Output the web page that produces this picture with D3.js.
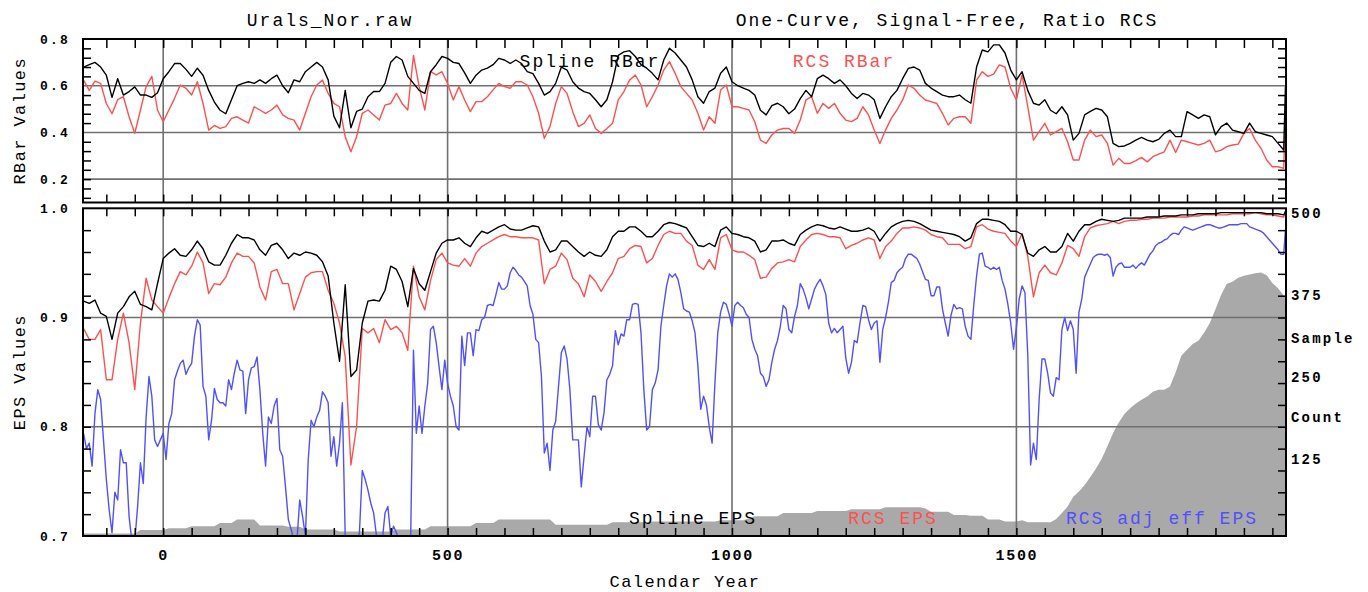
<!DOCTYPE html>
<html>
<head>
<meta charset="utf-8">
<script src="https://cdn.jsdelivr.net/npm/d3@7"></script>
<style>
  body { margin: 0; background: #fff; }
  svg { display: block; }
  text { font-family: "Courier New", "Liberation Mono", monospace; }
</style>
</head>
<body>
<svg id="chart" width="1368" height="592"></svg>
<script>
// Decadal sampling of the chronology statistics (last entry is the final year).
const years = d3.range(-140, 1971, 10).concat([1973]);
// Five-year sampling used for the adjusted effective EPS.
const yearsFine = d3.range(-140, 1971, 5).concat([1973]);

const splineRBar = [
  0.68,0.69,0.70,0.68,0.645,0.55,0.63,0.56,0.575,0.595,
  0.56,0.56,0.55,0.57,0.63,0.66,0.695,0.695,0.67,0.64,
  0.675,0.645,0.58,0.53,0.495,0.48,0.54,0.60,0.61,0.617,
  0.61,0.625,0.61,0.63,0.645,0.60,0.57,0.625,0.617,0.66,
  0.68,0.70,0.68,0.625,0.47,0.42,0.58,0.42,0.49,0.50,
  0.553,0.575,0.575,0.61,0.70,0.725,0.71,0.64,0.61,0.58,
  0.567,0.66,0.69,0.725,0.717,0.70,0.695,0.655,0.61,0.645,
  0.667,0.675,0.69,0.717,0.71,0.695,0.71,0.695,0.66,0.652,
  0.61,0.56,0.575,0.61,0.68,0.667,0.617,0.59,0.575,0.567,
  0.54,0.51,0.54,0.617,0.73,0.745,0.75,0.725,0.69,0.675,
  0.653,0.625,0.71,0.76,0.74,0.71,0.68,0.625,0.553,0.525,
  0.575,0.59,0.653,0.68,0.617,0.60,0.59,0.58,0.56,0.495,
  0.475,0.515,0.525,0.51,0.48,0.50,0.545,0.58,0.553,0.63,
  0.645,0.63,0.61,0.625,0.60,0.567,0.545,0.567,0.56,0.54,
  0.46,0.51,0.553,0.58,0.63,0.674,0.68,0.667,0.61,0.59,
  0.575,0.56,0.553,0.553,0.56,0.54,0.525,0.68,0.753,0.745,
  0.775,0.775,0.74,0.667,0.625,0.66,0.58,0.525,0.517,0.54,
  0.495,0.48,0.51,0.475,0.367,0.396,0.475,0.49,0.503,0.496,
  0.467,0.353,0.339,0.342,0.353,0.367,0.379,0.367,0.36,0.37,
  0.396,0.41,0.382,0.382,0.489,0.475,0.46,0.475,0.467,0.39,
  0.425,0.44,0.41,0.403,0.396,0.44,0.403,0.396,0.389,0.382,
  0.353,0.325,0.596
];

const rcsRBar = [
  0.624,0.58,0.62,0.61,0.524,0.48,0.54,0.553,0.467,0.396,
  0.496,0.596,0.64,0.496,0.446,0.496,0.546,0.603,0.589,0.56,
  0.617,0.524,0.41,0.43,0.417,0.425,0.46,0.467,0.453,0.44,
  0.51,0.496,0.482,0.496,0.517,0.475,0.46,0.453,0.41,0.482,
  0.553,0.603,0.624,0.567,0.524,0.51,0.382,0.317,0.382,0.482,
  0.496,0.475,0.453,0.517,0.524,0.567,0.524,0.496,0.73,0.596,
  0.496,0.66,0.646,0.66,0.61,0.539,0.596,0.539,0.489,0.532,
  0.532,0.553,0.582,0.61,0.596,0.589,0.617,0.617,0.603,0.553,
  0.482,0.375,0.425,0.524,0.596,0.567,0.489,0.425,0.439,0.475,
  0.417,0.396,0.417,0.439,0.539,0.575,0.624,0.646,0.603,0.51,
  0.553,0.603,0.667,0.703,0.653,0.596,0.567,0.539,0.482,0.41,
  0.467,0.439,0.582,0.603,0.51,0.51,0.503,0.496,0.446,0.367,
  0.353,0.389,0.41,0.417,0.417,0.396,0.453,0.539,0.553,0.482,
  0.524,0.503,0.524,0.482,0.453,0.446,0.46,0.51,0.475,0.41,
  0.353,0.41,0.46,0.496,0.539,0.603,0.589,0.56,0.539,0.532,
  0.524,0.482,0.432,0.46,0.467,0.467,0.439,0.624,0.66,0.64,
  0.65,0.689,0.68,0.589,0.539,0.646,0.51,0.367,0.403,0.439,
  0.389,0.403,0.417,0.36,0.282,0.282,0.367,0.41,0.382,0.389,
  0.353,0.26,0.289,0.267,0.267,0.279,0.293,0.274,0.296,0.307,
  0.317,0.367,0.314,0.367,0.36,0.353,0.346,0.353,0.367,0.317,
  0.324,0.339,0.346,0.35,0.396,0.417,0.367,0.332,0.282,0.253,
  0.253,0.246,0.482
];

const splineEPS = [
  0.915,0.913,0.916,0.904,0.901,0.88,0.904,0.91,0.919,0.924,
  0.912,0.91,0.907,0.931,0.954,0.959,0.963,0.957,0.956,0.962,
  0.97,0.963,0.951,0.948,0.948,0.957,0.968,0.976,0.973,0.973,
  0.971,0.962,0.957,0.966,0.968,0.962,0.954,0.959,0.957,0.96,
  0.959,0.957,0.951,0.938,0.895,0.86,0.93,0.846,0.852,0.895,
  0.915,0.916,0.915,0.925,0.947,0.944,0.933,0.91,0.945,0.931,
  0.925,0.942,0.959,0.968,0.971,0.971,0.973,0.968,0.965,0.973,
  0.979,0.977,0.98,0.983,0.985,0.981,0.98,0.98,0.982,0.984,
  0.983,0.97,0.96,0.962,0.97,0.97,0.965,0.96,0.956,0.96,
  0.957,0.956,0.962,0.974,0.979,0.979,0.983,0.983,0.979,0.974,
  0.974,0.979,0.985,0.987,0.986,0.984,0.982,0.974,0.966,0.965,
  0.968,0.965,0.98,0.983,0.977,0.976,0.974,0.973,0.97,0.96,
  0.962,0.97,0.97,0.971,0.968,0.966,0.976,0.98,0.983,0.985,
  0.984,0.982,0.981,0.983,0.981,0.979,0.979,0.98,0.982,0.979,
  0.97,0.977,0.983,0.986,0.988,0.989,0.988,0.986,0.983,0.98,
  0.979,0.978,0.977,0.976,0.974,0.97,0.973,0.986,0.99,0.99,
  0.989,0.988,0.985,0.979,0.979,0.976,0.959,0.956,0.962,0.965,
  0.96,0.96,0.965,0.977,0.97,0.979,0.985,0.985,0.988,0.99,
  0.989,0.988,0.989,0.991,0.991,0.991,0.991,0.992,0.992,0.992,
  0.993,0.993,0.993,0.994,0.994,0.994,0.995,0.995,0.995,0.995,
  0.996,0.996,0.996,0.996,0.996,0.996,0.996,0.996,0.995,0.995,
  0.995,0.994,0.997
];

const rcsEPS = [
  0.89,0.88,0.88,0.889,0.843,0.843,0.88,0.904,0.877,0.834,
  0.895,0.936,0.916,0.91,0.904,0.918,0.931,0.942,0.939,0.947,
  0.96,0.95,0.922,0.931,0.93,0.937,0.95,0.959,0.956,0.956,
  0.95,0.928,0.916,0.942,0.944,0.931,0.931,0.907,0.922,0.937,
  0.941,0.942,0.942,0.925,0.913,0.895,0.864,0.765,0.80,0.89,
  0.886,0.89,0.877,0.898,0.889,0.892,0.886,0.87,0.947,0.919,
  0.907,0.934,0.953,0.959,0.95,0.948,0.947,0.954,0.947,0.959,
  0.965,0.968,0.971,0.974,0.976,0.974,0.974,0.973,0.973,0.973,
  0.971,0.931,0.944,0.947,0.959,0.953,0.936,0.931,0.919,0.939,
  0.933,0.924,0.933,0.941,0.954,0.956,0.963,0.966,0.965,0.95,
  0.954,0.966,0.976,0.979,0.977,0.977,0.97,0.966,0.948,0.944,
  0.953,0.944,0.973,0.976,0.962,0.96,0.96,0.957,0.953,0.936,
  0.937,0.945,0.95,0.951,0.953,0.951,0.965,0.971,0.976,0.977,
  0.976,0.974,0.974,0.973,0.963,0.966,0.968,0.971,0.973,0.971,
  0.954,0.965,0.97,0.977,0.982,0.982,0.983,0.982,0.98,0.976,
  0.974,0.973,0.967,0.967,0.967,0.963,0.965,0.983,0.985,0.981,
  0.979,0.978,0.977,0.97,0.965,0.977,0.956,0.919,0.941,0.948,
  0.941,0.939,0.95,0.966,0.963,0.956,0.974,0.982,0.984,0.985,
  0.986,0.988,0.986,0.988,0.989,0.989,0.99,0.99,0.991,0.991,
  0.991,0.992,0.992,0.992,0.992,0.993,0.993,0.994,0.994,0.994,
  0.994,0.994,0.995,0.995,0.995,0.995,0.996,0.995,0.994,0.994,
  0.993,0.992,0.997
];

// five-year values (yearsFine)
const rcsAdjEffEPS = [
  0.794,0.78,0.785,0.764,0.812,0.834,0.825,0.788,0.752,0.724,0.703,0.74,0.733,0.779,0.767,0.767,0.718,0.695,0.695,0.727,
  0.767,0.748,0.809,0.846,0.828,0.788,0.782,0.788,0.794,0.77,0.803,0.812,0.843,0.851,0.858,0.861,0.848,0.854,0.858,0.883,
  0.898,0.893,0.837,0.828,0.788,0.806,0.835,0.825,0.822,0.822,0.819,0.843,0.834,0.849,0.861,0.852,0.851,0.812,0.843,0.854,
  0.855,0.864,0.834,0.794,0.764,0.809,0.803,0.819,0.826,0.779,0.773,0.745,0.715,0.706,0.695,0.695,0.733,0.718,0.70,0.77,
  0.806,0.80,0.809,0.815,0.832,0.828,0.822,0.773,0.791,0.764,0.785,0.822,0.70,0.695,0.695,0.695,0.695,0.703,0.76,0.752,
  0.742,0.73,0.721,0.70,0.695,0.695,0.721,0.727,0.70,0.709,0.703,0.695,0.695,0.695,0.695,0.695,0.87,0.794,0.819,0.794,
  0.819,0.84,0.889,0.892,0.877,0.855,0.834,0.861,0.84,0.828,0.819,0.80,0.797,0.883,0.856,0.886,0.886,0.865,0.889,0.888,
  0.898,0.90,0.911,0.912,0.911,0.921,0.932,0.926,0.926,0.929,0.941,0.946,0.943,0.939,0.937,0.933,0.929,0.911,0.903,0.88,
  0.877,0.846,0.776,0.785,0.76,0.797,0.805,0.837,0.868,0.874,0.862,0.834,0.788,0.788,0.788,0.745,0.773,0.80,0.791,0.828,
  0.828,0.802,0.797,0.813,0.843,0.848,0.856,0.888,0.875,0.885,0.883,0.898,0.898,0.912,0.913,0.912,0.886,0.834,0.797,0.80,
  0.834,0.84,0.852,0.892,0.911,0.929,0.94,0.937,0.94,0.935,0.923,0.908,0.906,0.905,0.897,0.886,0.856,0.816,0.828,0.82,
  0.80,0.785,0.84,0.886,0.905,0.914,0.912,0.903,0.892,0.911,0.914,0.911,0.909,0.903,0.90,0.88,0.871,0.865,0.849,0.846,
  0.837,0.843,0.859,0.871,0.879,0.892,0.911,0.908,0.889,0.886,0.901,0.911,0.931,0.926,0.918,0.908,0.917,0.926,0.931,0.935,
  0.929,0.921,0.895,0.886,0.89,0.886,0.889,0.892,0.863,0.849,0.859,0.879,0.877,0.895,0.911,0.91,0.898,0.889,0.895,0.897,
  0.859,0.889,0.90,0.914,0.932,0.934,0.941,0.944,0.946,0.954,0.958,0.958,0.956,0.954,0.949,0.942,0.935,0.934,0.92,0.92,
  0.928,0.928,0.908,0.895,0.883,0.902,0.912,0.908,0.909,0.908,0.892,0.883,0.88,0.911,0.938,0.958,0.959,0.947,0.946,0.944,
  0.946,0.944,0.946,0.934,0.926,0.912,0.895,0.871,0.891,0.917,0.929,0.923,0.866,0.765,0.785,0.77,0.825,0.862,0.862,0.849,
  0.831,0.828,0.845,0.843,0.889,0.90,0.888,0.897,0.889,0.849,0.905,0.917,0.937,0.943,0.949,0.955,0.957,0.958,0.958,0.957,
  0.958,0.955,0.938,0.946,0.949,0.95,0.946,0.946,0.946,0.948,0.945,0.948,0.95,0.948,0.953,0.958,0.961,0.966,0.968,0.969,
  0.971,0.972,0.975,0.977,0.977,0.976,0.98,0.983,0.982,0.981,0.98,0.981,0.982,0.983,0.984,0.985,0.985,0.984,0.983,0.982,
  0.982,0.983,0.984,0.985,0.985,0.985,0.985,0.986,0.986,0.986,0.983,0.982,0.981,0.98,0.979,0.977,0.974,0.971,0.968,0.965,
  0.962,0.958,0.958,0.98
];

const sampleCount = [
  4,4,4,4,4,4,4,4,4,4,
  9,9,9,9,9,12,12,12,12,15,
  15,15,15,15,20,20,20,25,25,25,
  25,16,16,16,16,16,14,14,14,10,
  10,10,10,10,10,7,7,7,7,7,
  7,7,7,7,7,10,10,10,10,10,
  10,15,15,15,15,15,15,15,15,20,
  20,20,20,25,25,25,25,25,25,25,
  25,25,25,17,17,17,17,17,17,17,
  17,17,17,21,21,21,21,21,21,21,
  22,22,22,22,22,22,22,22,22,22,
  22,22,24,24,24,24,24,27,30,30,
  30,30,30,35,35,35,35,35,35,38,
  38,38,38,38,38,41,41,41,41,41,
  41,44,44,44,44,44,44,44,42,37,
  37,37,37,32,32,32,31,31,31,25,
  25,25,22,22,22,24,21,21,21,21,
  21,26,35,45,60,68,78,90,103,118,
  137,157,173,186,195,202,208,213,220,223,
  223,228,250,275,284,293,298,310,325,346,
  368,385,388,394,397,399,401,402,398,386,
  378,367,365
];

const xLabelYears = [0, 500, 1000, 1500];
const rbarTicks = [0.2, 0.4, 0.6, 0.8];
const epsTicks = [0.7, 0.8, 0.9, 1.0];
const countTicks = [125, 250, 375, 500];

const RED = "#ff5050", BLUE = "#5050ff", GRID = "#707070", AREA = "#a9a9a9";
const FONT = '"Courier New", "Liberation Mono", monospace';

const svg = d3.select("#chart");
const L = 83, R = 1286;
const top1 = 39, bot1 = 202.5;     // RBar panel
const top2 = 208.3, bot2 = 536;    // EPS panel

const x = d3.scaleLinear().domain([-141, 1974]).range([L, R]);
const yR = d3.scaleLinear().domain([0.1, 0.8]).range([bot1, top1]);
const yE = d3.scaleLinear().domain([0.7, 1.0]).range([bot2, top2]);
const yC = d3.scaleLinear().domain([0, 500]).range([bot2, top2]);

const defs = svg.append("defs");
defs.append("clipPath").attr("id", "clipR").append("rect")
  .attr("x", L).attr("y", top1).attr("width", R - L).attr("height", bot1 - top1);
defs.append("clipPath").attr("id", "clipE").append("rect")
  .attr("x", L).attr("y", top2).attr("width", R - L).attr("height", bot2 - top2);

const rows = (vals, yrs = years) => yrs.map((yr, i) => ({ yr, v: vals[i] }));

// ---- sample-count area behind the EPS curves
svg.append("path")
  .datum(rows(sampleCount))
  .attr("clip-path", "url(#clipE)")
  .attr("fill", AREA)
  .attr("d", d3.area().x(d => x(d.yr)).y0(bot2).y1(d => yC(d.v)));

// ---- grid
const vGrid = [0, 500, 1000, 1500];
function grid(yScale, hVals, y0, y1) {
  const g = svg.append("g").attr("stroke", GRID).attr("stroke-width", 1.6);
  g.selectAll(".h").data(hVals).join("line")
    .attr("x1", L).attr("x2", R).attr("y1", d => yScale(d)).attr("y2", d => yScale(d));
  g.selectAll(".v").data(vGrid).join("line")
    .attr("y1", y0).attr("y2", y1).attr("x1", d => x(d)).attr("x2", d => x(d));
}
grid(yR, [0.6, 0.4, 0.2], top1, bot1);
grid(yE, [0.9, 0.8], top2, bot2);

// ---- curves
function curve(data, yScale, clip, color) {
  svg.append("path")
    .datum(data)
    .attr("clip-path", `url(#${clip})`)
    .attr("fill", "none")
    .attr("stroke", color)
    .attr("stroke-width", 1.4)
    .attr("stroke-linejoin", "round")
    .attr("d", d3.line().x(d => x(d.yr)).y(d => yScale(d.v)));
}
curve(rows(rcsRBar), yR, "clipR", RED);
curve(rows(splineRBar), yR, "clipR", "#000");
curve(rows(rcsAdjEffEPS, yearsFine), yE, "clipE", BLUE);
curve(rows(rcsEPS), yE, "clipE", RED);
curve(rows(splineEPS), yE, "clipE", "#000");

// ---- frames
[[top1, bot1], [top2, bot2]].forEach(([a, b]) => {
  svg.append("rect").attr("x", L).attr("y", a).attr("width", R - L).attr("height", b - a)
    .attr("fill", "none").attr("stroke", "#000").attr("stroke-width", 2);
});

// ---- tick marks (all pointing into the panels)
const xMinor = d3.range(-100, 1974, 50);
function ticks(axis, tx, ty) {
  const g = svg.append("g").attr("transform", `translate(${tx},${ty})`).call(axis);
  g.select(".domain").remove();
  g.selectAll("line").attr("stroke", "#000").attr("stroke-width", 1.5);
  g.selectAll("text").remove();
}
const tl = 8;
ticks(d3.axisBottom(x).tickValues(xMinor).tickSize(tl + 1), 0, top1);
ticks(d3.axisTop(x).tickValues(xMinor).tickSize(tl), 0, bot1);
ticks(d3.axisBottom(x).tickValues(xMinor).tickSize(tl), 0, top2);
ticks(d3.axisTop(x).tickValues(xMinor).tickSize(tl), 0, bot2);
const rMinor = d3.range(0.76, 0.11, -0.04).filter(v => Math.abs(v * 100 % 20) > 0.01);
const eMinor = d3.range(0.98, 0.71, -0.02);
ticks(d3.axisRight(yR).tickValues(rMinor).tickSize(tl), L, 0);
ticks(d3.axisLeft(yR).tickValues(rMinor).tickSize(tl), R, 0);
ticks(d3.axisRight(yE).tickValues(eMinor).tickSize(tl), L, 0);
ticks(d3.axisLeft(yE).tickValues(eMinor).tickSize(tl), R, 0);

// ---- tick labels
function labels(axis, tx, ty, size, spacing) {
  const g = svg.append("g").attr("transform", `translate(${tx},${ty})`).call(axis);
  g.select(".domain").remove();
  g.selectAll("line").remove();
  g.selectAll("text")
    .attr("font-family", FONT).attr("font-size", size).attr("font-weight", "bold")
    .attr("fill", "#000").style("letter-spacing", spacing + "px");
  return g;
}
labels(d3.axisLeft(yR).tickValues(rbarTicks).tickSize(0).tickPadding(13).tickFormat(d3.format(".1f")), L, 0, 13, 2.2);
labels(d3.axisLeft(yE).tickValues(epsTicks).tickSize(0).tickPadding(13).tickFormat(d3.format(".1f")), L, 0, 13, 2.2);
labels(d3.axisBottom(x).tickValues(xLabelYears).tickSize(0).tickPadding(13).tickFormat(d3.format("d")), 0, bot2, 15, 1.7);

// sample count axis labels on the right
const rg = svg.append("g").attr("font-family", FONT).attr("font-size", 14).attr("font-weight", "bold")
  .style("letter-spacing", "2.2px");
rg.selectAll("text.c").data(countTicks).join("text")
  .attr("x", R + 5).attr("y", d => yC(d) + 5).attr("dy", "0.35em").text(d => d);
rg.append("text").attr("x", R + 5).attr("y", (yC(375) + yC(250)) / 2 + 7).attr("dy", "0.35em").text("Sample");
rg.append("text").attr("x", R + 5).attr("y", (yC(250) + yC(125)) / 2 + 4).attr("dy", "0.35em").text("Count");

// ---- titles and axis names
function txt(s, xp, yp, size, spacing, color, anchor) {
  return svg.append("text").attr("x", xp).attr("y", yp)
    .attr("font-family", FONT).attr("font-size", size).attr("fill", color || "#000")
    .attr("text-anchor", anchor || "middle").style("letter-spacing", spacing + "px").text(s);
}
txt("Urals_Nor.raw", 330, 26, 18, 2);
txt("One-Curve, Signal-Free, Ratio RCS", 947, 26, 18, 2);
txt("Calendar Year", 685, 587, 17, 1.4);
txt("RBar Values", 0, 0, 17, 1.4).attr("transform", `translate(25,${(top1 + bot1) / 2}) rotate(-90)`);
txt("EPS Values", 0, 0, 17, 1.4).attr("transform", `translate(25,${(top2 + bot2) / 2}) rotate(-90)`);

// ---- series labels inside the panels
txt("Spline RBar", 590, 67, 18, 2, "#000");
txt("RCS RBar", 844, 67, 18, 2, RED);
txt("Spline EPS", 693, 524, 18, 2, "#000");
txt("RCS EPS", 893, 524, 18, 2, RED);
txt("RCS adj eff EPS", 1162, 524, 18, 2, BLUE);
</script>
</body>
</html>
